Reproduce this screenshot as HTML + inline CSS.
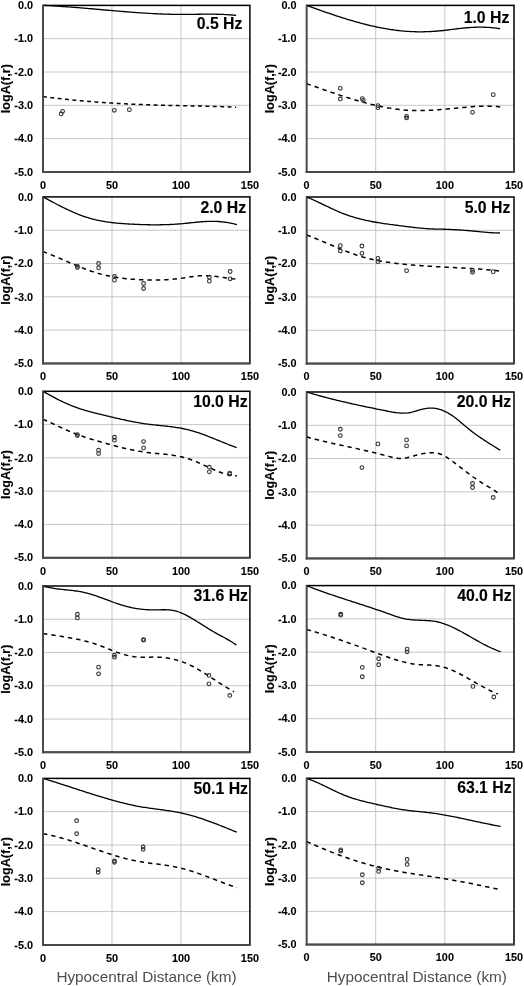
<!DOCTYPE html>
<html><head><meta charset="utf-8"><style>
html,body{margin:0;padding:0;background:#fff;}
svg{display:block;filter:grayscale(1);}
text{font-family:"Liberation Sans",sans-serif;}
.gr{stroke:#c6c6c6;stroke-width:1;}
.bd{fill:none;stroke:#000;stroke-width:1.5;}
.ax{stroke:#4a4a4a;stroke-width:2;}
.sl{fill:none;stroke:#000;stroke-width:1.3;}
.ds{fill:none;stroke:#000;stroke-width:1.5;}
.ci{fill:none;stroke:#333;stroke-width:1.1;}
.tl{font-size:11.4px;font-weight:bold;fill:#000;stroke:#000;stroke-width:0.1px;}
.yt{font-size:12.6px;font-weight:bold;fill:#000;stroke:#000;stroke-width:0.1px;}
.fl{font-size:15.8px;font-weight:bold;fill:#000;stroke:#000;stroke-width:0.15px;}
.xt{font-size:15.3px;fill:#4d4d4d;}
</style></head><body>
<svg width="524" height="986" viewBox="0 0 524 986">
<line x1="111.97" y1="5.4" x2="111.97" y2="171.9" class="gr"/>
<line x1="180.93" y1="5.4" x2="180.93" y2="171.9" class="gr"/>
<line x1="43" y1="38.7" x2="249.9" y2="38.7" class="gr"/>
<line x1="43" y1="72" x2="249.9" y2="72" class="gr"/>
<line x1="43" y1="105.3" x2="249.9" y2="105.3" class="gr"/>
<line x1="43" y1="138.6" x2="249.9" y2="138.6" class="gr"/>
<rect x="43" y="5.4" width="206.9" height="166.5" class="bd"/>
<path d="M43,5.4 L44.38,5.46 L45.76,5.52 L47.14,5.58 L48.52,5.65 L49.9,5.72 L51.28,5.8 L52.66,5.87 L54.03,5.95 L55.41,6.03 L56.79,6.12 L58.17,6.2 L59.55,6.29 L60.93,6.38 L62.31,6.48 L63.69,6.57 L65.07,6.67 L66.45,6.77 L67.83,6.87 L69.21,6.97 L70.59,7.07 L71.97,7.18 L73.35,7.28 L74.72,7.39 L76.1,7.5 L77.48,7.61 L78.86,7.72 L80.24,7.83 L81.62,7.95 L83,8.06 L84.38,8.18 L85.76,8.3 L87.14,8.41 L88.52,8.53 L89.9,8.65 L91.28,8.77 L92.66,8.89 L94.04,9.01 L95.41,9.13 L96.79,9.25 L98.17,9.38 L99.55,9.5 L100.93,9.62 L102.31,9.74 L103.69,9.86 L105.07,9.98 L106.45,10.11 L107.83,10.23 L109.21,10.35 L110.59,10.47 L111.97,10.59 L113.35,10.71 L114.73,10.83 L116.1,10.94 L117.48,11.06 L118.86,11.18 L120.24,11.29 L121.62,11.41 L123,11.52 L124.38,11.63 L125.76,11.75 L127.14,11.86 L128.52,11.96 L129.9,12.07 L131.28,12.18 L132.66,12.28 L134.04,12.38 L135.42,12.49 L136.79,12.58 L138.17,12.68 L139.55,12.78 L140.93,12.87 L142.31,12.96 L143.69,13.05 L145.07,13.14 L146.45,13.22 L147.83,13.31 L149.21,13.39 L150.59,13.47 L151.97,13.54 L153.35,13.61 L154.73,13.68 L156.11,13.75 L157.48,13.82 L158.86,13.88 L160.24,13.94 L161.62,13.99 L163,14.04 L164.38,14.09 L165.76,14.14 L167.14,14.18 L168.52,14.22 L169.9,14.26 L171.28,14.29 L172.66,14.32 L174.04,14.34 L175.42,14.36 L176.8,14.38 L178.17,14.4 L179.55,14.41 L180.93,14.41 L182.31,14.41 L183.69,14.41 L185.07,14.41 L186.45,14.4 L187.83,14.39 L189.21,14.37 L190.59,14.36 L191.97,14.34 L193.35,14.33 L194.73,14.31 L196.11,14.29 L197.49,14.27 L198.86,14.26 L200.24,14.24 L201.62,14.22 L203,14.21 L204.38,14.2 L205.76,14.19 L207.14,14.18 L208.52,14.18 L209.9,14.18 L211.28,14.18 L212.66,14.19 L214.04,14.21 L215.42,14.22 L216.8,14.25 L218.18,14.28 L219.55,14.31 L220.93,14.36 L222.31,14.41 L223.69,14.46 L225.07,14.53 L226.45,14.6 L227.83,14.68 L229.21,14.77 L230.59,14.87 L231.97,14.98 L233.35,15.1 L234.73,15.23 L236.11,15.37" class="sl"/>
<path d="M43,96.64 L44.38,96.82 L45.76,96.99 L47.14,97.16 L48.52,97.33 L49.9,97.5 L51.28,97.67 L52.66,97.83 L54.03,97.99 L55.41,98.15 L56.79,98.31 L58.17,98.46 L59.55,98.62 L60.93,98.77 L62.31,98.92 L63.69,99.06 L65.07,99.21 L66.45,99.35 L67.83,99.49 L69.21,99.63 L70.59,99.77 L71.97,99.91 L73.35,100.04 L74.72,100.17 L76.1,100.3 L77.48,100.43 L78.86,100.56 L80.24,100.68 L81.62,100.81 L83,100.93 L84.38,101.05 L85.76,101.17 L87.14,101.28 L88.52,101.4 L89.9,101.51 L91.28,101.62 L92.66,101.73 L94.04,101.83 L95.41,101.94 L96.79,102.04 L98.17,102.15 L99.55,102.25 L100.93,102.35 L102.31,102.44 L103.69,102.54 L105.07,102.63 L106.45,102.73 L107.83,102.82 L109.21,102.91 L110.59,102.99 L111.97,103.08 L113.35,103.16 L114.73,103.25 L116.1,103.33 L117.48,103.41 L118.86,103.49 L120.24,103.56 L121.62,103.64 L123,103.71 L124.38,103.79 L125.76,103.86 L127.14,103.93 L128.52,104 L129.9,104.06 L131.28,104.13 L132.66,104.19 L134.04,104.26 L135.42,104.32 L136.79,104.38 L138.17,104.44 L139.55,104.49 L140.93,104.55 L142.31,104.6 L143.69,104.66 L145.07,104.71 L146.45,104.76 L147.83,104.81 L149.21,104.86 L150.59,104.91 L151.97,104.95 L153.35,105 L154.73,105.04 L156.11,105.08 L157.48,105.13 L158.86,105.17 L160.24,105.2 L161.62,105.24 L163,105.28 L164.38,105.31 L165.76,105.35 L167.14,105.38 L168.52,105.41 L169.9,105.45 L171.28,105.48 L172.66,105.51 L174.04,105.54 L175.42,105.56 L176.8,105.59 L178.17,105.62 L179.55,105.65 L180.93,105.67 L182.31,105.7 L183.69,105.73 L185.07,105.75 L186.45,105.78 L187.83,105.8 L189.21,105.83 L190.59,105.86 L191.97,105.88 L193.35,105.91 L194.73,105.93 L196.11,105.96 L197.49,105.99 L198.86,106.02 L200.24,106.05 L201.62,106.08 L203,106.11 L204.38,106.14 L205.76,106.17 L207.14,106.2 L208.52,106.24 L209.9,106.27 L211.28,106.31 L212.66,106.35 L214.04,106.39 L215.42,106.43 L216.8,106.47 L218.18,106.51 L219.55,106.56 L220.93,106.61 L222.31,106.66 L223.69,106.71 L225.07,106.76 L226.45,106.81 L227.83,106.87 L229.21,106.93 L230.59,106.99 L231.97,107.05 L233.35,107.12 L234.73,107.19 L236.11,107.26" class="ds" stroke-dasharray="3.9,3.5"/>
<circle cx="61.21" cy="113.96" r="1.85" class="ci"/>
<circle cx="62.59" cy="111.29" r="1.85" class="ci"/>
<circle cx="114.31" cy="110.29" r="1.85" class="ci"/>
<circle cx="129.35" cy="109.63" r="1.85" class="ci"/>
<line x1="43" y1="4.9" x2="43" y2="172.9" class="ax" style="stroke-width:2"/>
<line x1="42" y1="171.9" x2="250.4" y2="171.9" class="ax"/>
<text transform="translate(33,9.1) scale(0.95,1)" class="tl" text-anchor="end">0.0</text>
<text transform="translate(33,42.4) scale(0.95,1)" class="tl" text-anchor="end">-1.0</text>
<text transform="translate(33,75.7) scale(0.95,1)" class="tl" text-anchor="end">-2.0</text>
<text transform="translate(33,109) scale(0.95,1)" class="tl" text-anchor="end">-3.0</text>
<text transform="translate(33,142.3) scale(0.95,1)" class="tl" text-anchor="end">-4.0</text>
<text transform="translate(33,175.6) scale(0.95,1)" class="tl" text-anchor="end">-5.0</text>
<text transform="translate(43,188.7) scale(0.95,1)" class="tl" text-anchor="middle">0</text>
<text transform="translate(111.97,188.7) scale(0.95,1)" class="tl" text-anchor="middle">50</text>
<text transform="translate(180.93,188.7) scale(0.95,1)" class="tl" text-anchor="middle">100</text>
<text transform="translate(249.9,188.7) scale(0.95,1)" class="tl" text-anchor="middle">150</text>
<text transform="translate(10,88.65) rotate(-90)" class="yt" text-anchor="middle">logA(f,r)</text>
<text x="242.4" y="29.1" class="fl" text-anchor="end">0.5 Hz</text>
<line x1="375.73" y1="5.4" x2="375.73" y2="171.9" class="gr"/>
<line x1="444.87" y1="5.4" x2="444.87" y2="171.9" class="gr"/>
<line x1="306.6" y1="38.7" x2="514" y2="38.7" class="gr"/>
<line x1="306.6" y1="72" x2="514" y2="72" class="gr"/>
<line x1="306.6" y1="105.3" x2="514" y2="105.3" class="gr"/>
<line x1="306.6" y1="138.6" x2="514" y2="138.6" class="gr"/>
<rect x="306.6" y="5.4" width="207.4" height="166.5" class="bd"/>
<path d="M306.6,5.39 L307.98,5.89 L309.37,6.39 L310.75,6.89 L312.13,7.39 L313.51,7.89 L314.9,8.39 L316.28,8.88 L317.66,9.37 L319.04,9.87 L320.43,10.35 L321.81,10.84 L323.19,11.33 L324.57,11.81 L325.96,12.29 L327.34,12.77 L328.72,13.24 L330.11,13.71 L331.49,14.18 L332.87,14.64 L334.25,15.1 L335.64,15.56 L337.02,16.02 L338.4,16.47 L339.78,16.92 L341.17,17.36 L342.55,17.8 L343.93,18.23 L345.31,18.66 L346.7,19.09 L348.08,19.51 L349.46,19.92 L350.85,20.34 L352.23,20.74 L353.61,21.14 L354.99,21.54 L356.38,21.93 L357.76,22.32 L359.14,22.69 L360.52,23.07 L361.91,23.44 L363.29,23.8 L364.67,24.15 L366.05,24.5 L367.44,24.84 L368.82,25.18 L370.2,25.51 L371.59,25.83 L372.97,26.15 L374.35,26.46 L375.73,26.76 L377.12,27.05 L378.5,27.34 L379.88,27.61 L381.26,27.89 L382.65,28.15 L384.03,28.4 L385.41,28.65 L386.79,28.89 L388.18,29.12 L389.56,29.34 L390.94,29.55 L392.33,29.76 L393.71,29.95 L395.09,30.14 L396.47,30.31 L397.86,30.48 L399.24,30.64 L400.62,30.79 L402,30.93 L403.39,31.06 L404.77,31.17 L406.15,31.28 L407.53,31.38 L408.92,31.47 L410.3,31.55 L411.68,31.61 L413.07,31.67 L414.45,31.72 L415.83,31.75 L417.21,31.78 L418.6,31.79 L419.98,31.8 L421.36,31.79 L422.74,31.78 L424.13,31.76 L425.51,31.72 L426.89,31.68 L428.27,31.63 L429.66,31.57 L431.04,31.5 L432.42,31.42 L433.81,31.33 L435.19,31.24 L436.57,31.13 L437.95,31.02 L439.34,30.9 L440.72,30.77 L442.1,30.63 L443.48,30.48 L444.87,30.33 L446.25,30.17 L447.63,30 L449.01,29.83 L450.4,29.65 L451.78,29.47 L453.16,29.29 L454.55,29.12 L455.93,28.94 L457.31,28.77 L458.69,28.6 L460.08,28.44 L461.46,28.28 L462.84,28.14 L464.22,28 L465.61,27.87 L466.99,27.75 L468.37,27.64 L469.75,27.54 L471.14,27.46 L472.52,27.38 L473.9,27.31 L475.29,27.26 L476.67,27.21 L478.05,27.18 L479.43,27.17 L480.82,27.16 L482.2,27.17 L483.58,27.19 L484.96,27.23 L486.35,27.29 L487.73,27.35 L489.11,27.44 L490.49,27.54 L491.88,27.65 L493.26,27.79 L494.64,27.94 L496.03,28.11 L497.41,28.29 L498.79,28.5 L500.17,28.72" class="sl"/>
<path d="M306.6,83.66 L307.98,84.14 L309.37,84.63 L310.75,85.11 L312.13,85.6 L313.51,86.09 L314.9,86.57 L316.28,87.06 L317.66,87.54 L319.04,88.03 L320.43,88.51 L321.81,89 L323.19,89.48 L324.57,89.96 L325.96,90.44 L327.34,90.92 L328.72,91.4 L330.11,91.88 L331.49,92.35 L332.87,92.82 L334.25,93.29 L335.64,93.75 L337.02,94.22 L338.4,94.68 L339.78,95.14 L341.17,95.59 L342.55,96.04 L343.93,96.49 L345.31,96.93 L346.7,97.37 L348.08,97.81 L349.46,98.24 L350.85,98.67 L352.23,99.09 L353.61,99.51 L354.99,99.92 L356.38,100.33 L357.76,100.73 L359.14,101.13 L360.52,101.52 L361.91,101.9 L363.29,102.28 L364.67,102.65 L366.05,103.02 L367.44,103.38 L368.82,103.73 L370.2,104.08 L371.59,104.42 L372.97,104.75 L374.35,105.08 L375.73,105.4 L377.12,105.71 L378.5,106.01 L379.88,106.3 L381.26,106.59 L382.65,106.87 L384.03,107.13 L385.41,107.39 L386.79,107.65 L388.18,107.89 L389.56,108.12 L390.94,108.34 L392.33,108.56 L393.71,108.76 L395.09,108.96 L396.47,109.14 L397.86,109.31 L399.24,109.48 L400.62,109.63 L402,109.77 L403.39,109.9 L404.77,110.02 L406.15,110.13 L407.53,110.23 L408.92,110.31 L410.3,110.39 L411.68,110.45 L413.07,110.5 L414.45,110.53 L415.83,110.56 L417.21,110.58 L418.6,110.59 L419.98,110.58 L421.36,110.57 L422.74,110.55 L424.13,110.52 L425.51,110.48 L426.89,110.43 L428.27,110.38 L429.66,110.31 L431.04,110.24 L432.42,110.17 L433.81,110.08 L435.19,110 L436.57,109.9 L437.95,109.8 L439.34,109.7 L440.72,109.59 L442.1,109.48 L443.48,109.36 L444.87,109.24 L446.25,109.11 L447.63,108.99 L449.01,108.86 L450.4,108.73 L451.78,108.6 L453.16,108.46 L454.55,108.33 L455.93,108.19 L457.31,108.05 L458.69,107.92 L460.08,107.78 L461.46,107.65 L462.84,107.51 L464.22,107.38 L465.61,107.25 L466.99,107.13 L468.37,107.01 L469.75,106.89 L471.14,106.78 L472.52,106.67 L473.9,106.58 L475.29,106.49 L476.67,106.4 L478.05,106.33 L479.43,106.27 L480.82,106.21 L482.2,106.17 L483.58,106.14 L484.96,106.12 L486.35,106.12 L487.73,106.12 L489.11,106.15 L490.49,106.18 L491.88,106.24 L493.26,106.31 L494.64,106.39 L496.03,106.5 L497.41,106.62 L498.79,106.76 L500.17,106.92" class="ds" stroke-dasharray="4.4,4"/>
<circle cx="340.34" cy="88.32" r="1.85" class="ci"/>
<circle cx="340.34" cy="98.97" r="1.85" class="ci"/>
<circle cx="362.32" cy="98.64" r="1.85" class="ci"/>
<circle cx="363.29" cy="100.31" r="1.85" class="ci"/>
<circle cx="377.95" cy="105.63" r="1.85" class="ci"/>
<circle cx="377.95" cy="107.63" r="1.85" class="ci"/>
<circle cx="406.57" cy="116.29" r="1.85" class="ci"/>
<circle cx="406.57" cy="117.95" r="1.85" class="ci"/>
<circle cx="472.52" cy="112.29" r="1.85" class="ci"/>
<circle cx="493.26" cy="94.64" r="1.85" class="ci"/>
<line x1="306.6" y1="4.9" x2="306.6" y2="172.9" class="ax" style="stroke-width:1.5"/>
<line x1="305.6" y1="171.9" x2="514.5" y2="171.9" class="ax"/>
<text transform="translate(296.6,9.1) scale(0.95,1)" class="tl" text-anchor="end">0.0</text>
<text transform="translate(296.6,42.4) scale(0.95,1)" class="tl" text-anchor="end">-1.0</text>
<text transform="translate(296.6,75.7) scale(0.95,1)" class="tl" text-anchor="end">-2.0</text>
<text transform="translate(296.6,109) scale(0.95,1)" class="tl" text-anchor="end">-3.0</text>
<text transform="translate(296.6,142.3) scale(0.95,1)" class="tl" text-anchor="end">-4.0</text>
<text transform="translate(296.6,175.6) scale(0.95,1)" class="tl" text-anchor="end">-5.0</text>
<text transform="translate(306.6,188.7) scale(0.95,1)" class="tl" text-anchor="middle">0</text>
<text transform="translate(375.73,188.7) scale(0.95,1)" class="tl" text-anchor="middle">50</text>
<text transform="translate(444.87,188.7) scale(0.95,1)" class="tl" text-anchor="middle">100</text>
<text transform="translate(514,188.7) scale(0.95,1)" class="tl" text-anchor="middle">150</text>
<text transform="translate(273.6,88.65) rotate(-90)" class="yt" text-anchor="middle">logA(f,r)</text>
<text x="509.3" y="22.5" class="fl" text-anchor="end">1.0 Hz</text>
<line x1="111.97" y1="196.9" x2="111.97" y2="363.4" class="gr"/>
<line x1="180.93" y1="196.9" x2="180.93" y2="363.4" class="gr"/>
<line x1="43" y1="230.2" x2="249.9" y2="230.2" class="gr"/>
<line x1="43" y1="263.5" x2="249.9" y2="263.5" class="gr"/>
<line x1="43" y1="296.8" x2="249.9" y2="296.8" class="gr"/>
<line x1="43" y1="330.1" x2="249.9" y2="330.1" class="gr"/>
<rect x="43" y="196.9" width="206.9" height="166.5" class="bd"/>
<path d="M43,196.9 L44.38,197.64 L45.76,198.38 L47.14,199.12 L48.52,199.86 L49.9,200.6 L51.28,201.34 L52.66,202.07 L54.03,202.8 L55.41,203.52 L56.79,204.24 L58.17,204.96 L59.55,205.66 L60.93,206.36 L62.31,207.06 L63.69,207.74 L65.07,208.42 L66.45,209.08 L67.83,209.74 L69.21,210.38 L70.59,211.01 L71.97,211.63 L73.35,212.24 L74.72,212.83 L76.1,213.41 L77.48,213.98 L78.86,214.52 L80.24,215.06 L81.62,215.57 L83,216.07 L84.38,216.55 L85.76,217.01 L87.14,217.45 L88.52,217.87 L89.9,218.27 L91.28,218.66 L92.66,219.02 L94.04,219.37 L95.41,219.71 L96.79,220.02 L98.17,220.32 L99.55,220.61 L100.93,220.88 L102.31,221.14 L103.69,221.38 L105.07,221.61 L106.45,221.83 L107.83,222.03 L109.21,222.23 L110.59,222.41 L111.97,222.58 L113.35,222.74 L114.73,222.89 L116.1,223.04 L117.48,223.17 L118.86,223.29 L120.24,223.41 L121.62,223.52 L123,223.62 L124.38,223.72 L125.76,223.81 L127.14,223.9 L128.52,223.98 L129.9,224.06 L131.28,224.13 L132.66,224.2 L134.04,224.27 L135.42,224.33 L136.79,224.39 L138.17,224.45 L139.55,224.5 L140.93,224.55 L142.31,224.59 L143.69,224.63 L145.07,224.67 L146.45,224.7 L147.83,224.73 L149.21,224.76 L150.59,224.78 L151.97,224.79 L153.35,224.8 L154.73,224.81 L156.11,224.81 L157.48,224.8 L158.86,224.79 L160.24,224.77 L161.62,224.75 L163,224.72 L164.38,224.69 L165.76,224.65 L167.14,224.6 L168.52,224.55 L169.9,224.49 L171.28,224.43 L172.66,224.36 L174.04,224.28 L175.42,224.19 L176.8,224.1 L178.17,224 L179.55,223.9 L180.93,223.78 L182.31,223.66 L183.69,223.53 L185.07,223.4 L186.45,223.26 L187.83,223.12 L189.21,222.98 L190.59,222.83 L191.97,222.68 L193.35,222.54 L194.73,222.4 L196.11,222.26 L197.49,222.13 L198.86,222 L200.24,221.88 L201.62,221.77 L203,221.67 L204.38,221.57 L205.76,221.49 L207.14,221.43 L208.52,221.38 L209.9,221.34 L211.28,221.32 L212.66,221.32 L214.04,221.34 L215.42,221.37 L216.8,221.43 L218.18,221.51 L219.55,221.62 L220.93,221.74 L222.31,221.89 L223.69,222.05 L225.07,222.24 L226.45,222.44 L227.83,222.66 L229.21,222.9 L230.59,223.16 L231.97,223.44 L233.35,223.73 L234.73,224.04 L236.11,224.36 L236.93,224.56" class="sl"/>
<path d="M43,251.51 L44.38,252.04 L45.76,252.58 L47.14,253.12 L48.52,253.68 L49.9,254.24 L51.28,254.81 L52.66,255.38 L54.03,255.96 L55.41,256.54 L56.79,257.13 L58.17,257.72 L59.55,258.31 L60.93,258.9 L62.31,259.5 L63.69,260.09 L65.07,260.69 L66.45,261.28 L67.83,261.88 L69.21,262.47 L70.59,263.06 L71.97,263.65 L73.35,264.23 L74.72,264.81 L76.1,265.38 L77.48,265.95 L78.86,266.51 L80.24,267.07 L81.62,267.62 L83,268.16 L84.38,268.69 L85.76,269.21 L87.14,269.72 L88.52,270.22 L89.9,270.71 L91.28,271.19 L92.66,271.65 L94.04,272.1 L95.41,272.54 L96.79,272.97 L98.17,273.38 L99.55,273.77 L100.93,274.15 L102.31,274.51 L103.69,274.86 L105.07,275.19 L106.45,275.51 L107.83,275.81 L109.21,276.1 L110.59,276.38 L111.97,276.65 L113.35,276.9 L114.73,277.14 L116.1,277.36 L117.48,277.58 L118.86,277.78 L120.24,277.98 L121.62,278.16 L123,278.33 L124.38,278.49 L125.76,278.64 L127.14,278.78 L128.52,278.92 L129.9,279.04 L131.28,279.16 L132.66,279.26 L134.04,279.36 L135.42,279.45 L136.79,279.54 L138.17,279.61 L139.55,279.68 L140.93,279.75 L142.31,279.8 L143.69,279.85 L145.07,279.9 L146.45,279.94 L147.83,279.97 L149.21,280 L150.59,280.02 L151.97,280.03 L153.35,280.04 L154.73,280.03 L156.11,280.02 L157.48,280.01 L158.86,279.98 L160.24,279.95 L161.62,279.91 L163,279.85 L164.38,279.8 L165.76,279.73 L167.14,279.65 L168.52,279.56 L169.9,279.46 L171.28,279.36 L172.66,279.24 L174.04,279.12 L175.42,278.98 L176.8,278.83 L178.17,278.67 L179.55,278.5 L180.93,278.32 L182.31,278.13 L183.69,277.93 L185.07,277.72 L186.45,277.5 L187.83,277.29 L189.21,277.07 L190.59,276.86 L191.97,276.66 L193.35,276.47 L194.73,276.28 L196.11,276.12 L197.49,275.97 L198.86,275.85 L200.24,275.75 L201.62,275.68 L203,275.63 L204.38,275.62 L205.76,275.64 L207.14,275.68 L208.52,275.74 L209.9,275.83 L211.28,275.94 L212.66,276.07 L214.04,276.21 L215.42,276.37 L216.8,276.54 L218.18,276.73 L219.55,276.92 L220.93,277.11 L222.31,277.32 L223.69,277.52 L225.07,277.73 L226.45,277.93 L227.83,278.13 L229.21,278.33 L230.59,278.52 L231.97,278.7 L233.35,278.87 L234.73,279.02 L236.11,279.16" class="ds" stroke-dasharray="4.4,4"/>
<circle cx="77.35" cy="266.16" r="1.85" class="ci"/>
<circle cx="77.35" cy="267.5" r="1.85" class="ci"/>
<circle cx="98.59" cy="263.5" r="1.85" class="ci"/>
<circle cx="98.59" cy="267.83" r="1.85" class="ci"/>
<circle cx="114.45" cy="276.49" r="1.85" class="ci"/>
<circle cx="114.45" cy="280.15" r="1.85" class="ci"/>
<circle cx="143.55" cy="283.48" r="1.85" class="ci"/>
<circle cx="143.55" cy="288.48" r="1.85" class="ci"/>
<circle cx="209.35" cy="277.15" r="1.85" class="ci"/>
<circle cx="209.35" cy="281.15" r="1.85" class="ci"/>
<circle cx="230.18" cy="271.49" r="1.85" class="ci"/>
<circle cx="230.18" cy="278.82" r="1.85" class="ci"/>
<line x1="43" y1="196.4" x2="43" y2="364.4" class="ax" style="stroke-width:2"/>
<line x1="42" y1="363.4" x2="250.4" y2="363.4" class="ax"/>
<text transform="translate(33,200.6) scale(0.95,1)" class="tl" text-anchor="end">0.0</text>
<text transform="translate(33,233.9) scale(0.95,1)" class="tl" text-anchor="end">-1.0</text>
<text transform="translate(33,267.2) scale(0.95,1)" class="tl" text-anchor="end">-2.0</text>
<text transform="translate(33,300.5) scale(0.95,1)" class="tl" text-anchor="end">-3.0</text>
<text transform="translate(33,333.8) scale(0.95,1)" class="tl" text-anchor="end">-4.0</text>
<text transform="translate(33,367.1) scale(0.95,1)" class="tl" text-anchor="end">-5.0</text>
<text transform="translate(43,380.2) scale(0.95,1)" class="tl" text-anchor="middle">0</text>
<text transform="translate(111.97,380.2) scale(0.95,1)" class="tl" text-anchor="middle">50</text>
<text transform="translate(180.93,380.2) scale(0.95,1)" class="tl" text-anchor="middle">100</text>
<text transform="translate(249.9,380.2) scale(0.95,1)" class="tl" text-anchor="middle">150</text>
<text transform="translate(10,280.15) rotate(-90)" class="yt" text-anchor="middle">logA(f,r)</text>
<text x="246.1" y="213.1" class="fl" text-anchor="end">2.0 Hz</text>
<line x1="375.73" y1="197" x2="375.73" y2="363.6" class="gr"/>
<line x1="444.87" y1="197" x2="444.87" y2="363.6" class="gr"/>
<line x1="306.6" y1="230.32" x2="514" y2="230.32" class="gr"/>
<line x1="306.6" y1="263.64" x2="514" y2="263.64" class="gr"/>
<line x1="306.6" y1="296.96" x2="514" y2="296.96" class="gr"/>
<line x1="306.6" y1="330.28" x2="514" y2="330.28" class="gr"/>
<rect x="306.6" y="197" width="207.4" height="166.6" class="bd"/>
<path d="M306.6,197 L307.98,197.57 L309.37,198.15 L310.75,198.75 L312.13,199.36 L313.51,199.98 L314.9,200.62 L316.28,201.26 L317.66,201.9 L319.04,202.56 L320.43,203.21 L321.81,203.88 L323.19,204.54 L324.57,205.2 L325.96,205.87 L327.34,206.53 L328.72,207.19 L330.11,207.84 L331.49,208.49 L332.87,209.13 L334.25,209.76 L335.64,210.38 L337.02,210.99 L338.4,211.59 L339.78,212.17 L341.17,212.74 L342.55,213.29 L343.93,213.83 L345.31,214.35 L346.7,214.85 L348.08,215.33 L349.46,215.8 L350.85,216.26 L352.23,216.7 L353.61,217.12 L354.99,217.53 L356.38,217.93 L357.76,218.31 L359.14,218.68 L360.52,219.04 L361.91,219.38 L363.29,219.72 L364.67,220.04 L366.05,220.35 L367.44,220.65 L368.82,220.94 L370.2,221.22 L371.59,221.49 L372.97,221.76 L374.35,222.01 L375.73,222.26 L377.12,222.49 L378.5,222.73 L379.88,222.95 L381.26,223.17 L382.65,223.38 L384.03,223.59 L385.41,223.79 L386.79,223.98 L388.18,224.17 L389.56,224.36 L390.94,224.55 L392.33,224.73 L393.71,224.91 L395.09,225.09 L396.47,225.26 L397.86,225.44 L399.24,225.61 L400.62,225.78 L402,225.96 L403.39,226.13 L404.77,226.31 L406.15,226.48 L407.53,226.66 L408.92,226.83 L410.3,227 L411.68,227.17 L413.07,227.34 L414.45,227.5 L415.83,227.65 L417.21,227.81 L418.6,227.95 L419.98,228.09 L421.36,228.22 L422.74,228.34 L424.13,228.46 L425.51,228.56 L426.89,228.66 L428.27,228.74 L429.66,228.82 L431.04,228.89 L432.42,228.94 L433.81,228.99 L435.19,229.03 L436.57,229.07 L437.95,229.11 L439.34,229.14 L440.72,229.17 L442.1,229.2 L443.48,229.23 L444.87,229.27 L446.25,229.31 L447.63,229.36 L449.01,229.41 L450.4,229.47 L451.78,229.53 L453.16,229.59 L454.55,229.66 L455.93,229.74 L457.31,229.82 L458.69,229.9 L460.08,229.99 L461.46,230.08 L462.84,230.18 L464.22,230.28 L465.61,230.39 L466.99,230.5 L468.37,230.62 L469.75,230.74 L471.14,230.86 L472.52,230.99 L473.9,231.13 L475.29,231.26 L476.67,231.4 L478.05,231.54 L479.43,231.68 L480.82,231.82 L482.2,231.96 L483.58,232.09 L484.96,232.22 L486.35,232.34 L487.73,232.45 L489.11,232.56 L490.49,232.66 L491.88,232.75 L493.26,232.82 L494.64,232.89 L496.03,232.94 L497.41,232.97 L498.79,232.99 L499.9,233" class="sl"/>
<path d="M306.6,234.98 L307.98,235.5 L309.37,236.02 L310.75,236.56 L312.13,237.1 L313.51,237.66 L314.9,238.21 L316.28,238.78 L317.66,239.35 L319.04,239.92 L320.43,240.5 L321.81,241.08 L323.19,241.66 L324.57,242.25 L325.96,242.84 L327.34,243.43 L328.72,244.02 L330.11,244.61 L331.49,245.2 L332.87,245.78 L334.25,246.37 L335.64,246.95 L337.02,247.53 L338.4,248.11 L339.78,248.68 L341.17,249.25 L342.55,249.81 L343.93,250.37 L345.31,250.91 L346.7,251.46 L348.08,251.99 L349.46,252.51 L350.85,253.03 L352.23,253.53 L353.61,254.03 L354.99,254.51 L356.38,254.98 L357.76,255.44 L359.14,255.88 L360.52,256.32 L361.91,256.73 L363.29,257.14 L364.67,257.53 L366.05,257.9 L367.44,258.26 L368.82,258.61 L370.2,258.95 L371.59,259.27 L372.97,259.58 L374.35,259.88 L375.73,260.17 L377.12,260.44 L378.5,260.71 L379.88,260.97 L381.26,261.21 L382.65,261.45 L384.03,261.68 L385.41,261.9 L386.79,262.11 L388.18,262.32 L389.56,262.52 L390.94,262.71 L392.33,262.89 L393.71,263.07 L395.09,263.24 L396.47,263.41 L397.86,263.57 L399.24,263.73 L400.62,263.88 L402,264.03 L403.39,264.18 L404.77,264.32 L406.15,264.45 L407.53,264.58 L408.92,264.71 L410.3,264.83 L411.68,264.95 L413.07,265.07 L414.45,265.18 L415.83,265.29 L417.21,265.4 L418.6,265.51 L419.98,265.61 L421.36,265.7 L422.74,265.8 L424.13,265.89 L425.51,265.98 L426.89,266.07 L428.27,266.16 L429.66,266.24 L431.04,266.33 L432.42,266.41 L433.81,266.49 L435.19,266.57 L436.57,266.64 L437.95,266.72 L439.34,266.79 L440.72,266.87 L442.1,266.94 L443.48,267.01 L444.87,267.09 L446.25,267.16 L447.63,267.23 L449.01,267.3 L450.4,267.37 L451.78,267.44 L453.16,267.51 L454.55,267.59 L455.93,267.66 L457.31,267.73 L458.69,267.8 L460.08,267.88 L461.46,267.96 L462.84,268.03 L464.22,268.11 L465.61,268.19 L466.99,268.27 L468.37,268.36 L469.75,268.44 L471.14,268.53 L472.52,268.62 L473.9,268.71 L475.29,268.8 L476.67,268.9 L478.05,269 L479.43,269.1 L480.82,269.2 L482.2,269.31 L483.58,269.42 L484.96,269.53 L486.35,269.65 L487.73,269.77 L489.11,269.89 L490.49,270.02 L491.88,270.15 L493.26,270.29 L494.64,270.43 L496.03,270.57 L497.41,270.72 L498.79,270.88 L499.9,271" class="ds" stroke-dasharray="4.4,4"/>
<circle cx="340.34" cy="245.65" r="1.85" class="ci"/>
<circle cx="340.34" cy="250.98" r="1.85" class="ci"/>
<circle cx="361.91" cy="245.98" r="1.85" class="ci"/>
<circle cx="361.91" cy="253.31" r="1.85" class="ci"/>
<circle cx="377.95" cy="258.31" r="1.85" class="ci"/>
<circle cx="377.95" cy="261.64" r="1.85" class="ci"/>
<circle cx="406.57" cy="270.64" r="1.85" class="ci"/>
<circle cx="472.52" cy="270.3" r="1.85" class="ci"/>
<circle cx="472.52" cy="272.3" r="1.85" class="ci"/>
<circle cx="493.26" cy="271.64" r="1.85" class="ci"/>
<line x1="306.6" y1="196.5" x2="306.6" y2="364.6" class="ax" style="stroke-width:1.5"/>
<line x1="305.6" y1="363.6" x2="514.5" y2="363.6" class="ax"/>
<text transform="translate(296.6,200.7) scale(0.95,1)" class="tl" text-anchor="end">0.0</text>
<text transform="translate(296.6,234.02) scale(0.95,1)" class="tl" text-anchor="end">-1.0</text>
<text transform="translate(296.6,267.34) scale(0.95,1)" class="tl" text-anchor="end">-2.0</text>
<text transform="translate(296.6,300.66) scale(0.95,1)" class="tl" text-anchor="end">-3.0</text>
<text transform="translate(296.6,333.98) scale(0.95,1)" class="tl" text-anchor="end">-4.0</text>
<text transform="translate(296.6,367.3) scale(0.95,1)" class="tl" text-anchor="end">-5.0</text>
<text transform="translate(306.6,380.4) scale(0.95,1)" class="tl" text-anchor="middle">0</text>
<text transform="translate(375.73,380.4) scale(0.95,1)" class="tl" text-anchor="middle">50</text>
<text transform="translate(444.87,380.4) scale(0.95,1)" class="tl" text-anchor="middle">100</text>
<text transform="translate(514,380.4) scale(0.95,1)" class="tl" text-anchor="middle">150</text>
<text transform="translate(273.6,280.3) rotate(-90)" class="yt" text-anchor="middle">logA(f,r)</text>
<text x="510.3" y="213.2" class="fl" text-anchor="end">5.0 Hz</text>
<line x1="111.97" y1="391.3" x2="111.97" y2="557.7" class="gr"/>
<line x1="180.93" y1="391.3" x2="180.93" y2="557.7" class="gr"/>
<line x1="43" y1="424.58" x2="249.9" y2="424.58" class="gr"/>
<line x1="43" y1="457.86" x2="249.9" y2="457.86" class="gr"/>
<line x1="43" y1="491.14" x2="249.9" y2="491.14" class="gr"/>
<line x1="43" y1="524.42" x2="249.9" y2="524.42" class="gr"/>
<rect x="43" y="391.3" width="206.9" height="166.4" class="bd"/>
<path d="M43,391.3 L44.38,392.09 L45.76,392.88 L47.14,393.65 L48.52,394.42 L49.9,395.19 L51.28,395.94 L52.66,396.68 L54.03,397.42 L55.41,398.14 L56.79,398.85 L58.17,399.55 L59.55,400.24 L60.93,400.92 L62.31,401.58 L63.69,402.23 L65.07,402.87 L66.45,403.49 L67.83,404.1 L69.21,404.7 L70.59,405.27 L71.97,405.84 L73.35,406.38 L74.72,406.91 L76.1,407.43 L77.48,407.92 L78.86,408.4 L80.24,408.86 L81.62,409.31 L83,409.74 L84.38,410.15 L85.76,410.56 L87.14,410.95 L88.52,411.33 L89.9,411.7 L91.28,412.07 L92.66,412.42 L94.04,412.78 L95.41,413.12 L96.79,413.46 L98.17,413.8 L99.55,414.13 L100.93,414.47 L102.31,414.8 L103.69,415.14 L105.07,415.47 L106.45,415.8 L107.83,416.14 L109.21,416.47 L110.59,416.8 L111.97,417.13 L113.35,417.45 L114.73,417.78 L116.1,418.1 L117.48,418.42 L118.86,418.73 L120.24,419.04 L121.62,419.35 L123,419.66 L124.38,419.96 L125.76,420.25 L127.14,420.55 L128.52,420.83 L129.9,421.11 L131.28,421.39 L132.66,421.66 L134.04,421.92 L135.42,422.18 L136.79,422.43 L138.17,422.67 L139.55,422.9 L140.93,423.13 L142.31,423.35 L143.69,423.56 L145.07,423.77 L146.45,423.96 L147.83,424.14 L149.21,424.32 L150.59,424.49 L151.97,424.65 L153.35,424.81 L154.73,424.96 L156.11,425.11 L157.48,425.25 L158.86,425.4 L160.24,425.54 L161.62,425.68 L163,425.82 L164.38,425.97 L165.76,426.12 L167.14,426.27 L168.52,426.43 L169.9,426.59 L171.28,426.76 L172.66,426.94 L174.04,427.13 L175.42,427.32 L176.8,427.53 L178.17,427.75 L179.55,427.98 L180.93,428.23 L182.31,428.49 L183.69,428.76 L185.07,429.05 L186.45,429.36 L187.83,429.69 L189.21,430.04 L190.59,430.4 L191.97,430.79 L193.35,431.19 L194.73,431.61 L196.11,432.05 L197.49,432.49 L198.86,432.96 L200.24,433.43 L201.62,433.92 L203,434.42 L204.38,434.93 L205.76,435.45 L207.14,435.97 L208.52,436.51 L209.9,437.05 L211.28,437.59 L212.66,438.15 L214.04,438.7 L215.42,439.26 L216.8,439.82 L218.18,440.38 L219.55,440.94 L220.93,441.5 L222.31,442.05 L223.69,442.61 L225.07,443.16 L226.45,443.71 L227.83,444.25 L229.21,444.78 L230.59,445.31 L231.97,445.83 L233.35,446.34 L234.73,446.84 L236.11,447.33 L236.66,447.52" class="sl"/>
<path d="M43,419.25 L44.38,419.85 L45.76,420.45 L47.14,421.07 L48.52,421.69 L49.9,422.33 L51.28,422.96 L52.66,423.6 L54.03,424.25 L55.41,424.9 L56.79,425.54 L58.17,426.19 L59.55,426.83 L60.93,427.48 L62.31,428.11 L63.69,428.74 L65.07,429.37 L66.45,429.98 L67.83,430.59 L69.21,431.19 L70.59,431.78 L71.97,432.36 L73.35,432.93 L74.72,433.48 L76.1,434.02 L77.48,434.55 L78.86,435.07 L80.24,435.56 L81.62,436.05 L83,436.52 L84.38,436.99 L85.76,437.44 L87.14,437.88 L88.52,438.32 L89.9,438.74 L91.28,439.16 L92.66,439.58 L94.04,439.99 L95.41,440.39 L96.79,440.79 L98.17,441.19 L99.55,441.59 L100.93,441.99 L102.31,442.39 L103.69,442.78 L105.07,443.17 L106.45,443.56 L107.83,443.95 L109.21,444.33 L110.59,444.71 L111.97,445.09 L113.35,445.46 L114.73,445.83 L116.1,446.19 L117.48,446.55 L118.86,446.9 L120.24,447.25 L121.62,447.59 L123,447.93 L124.38,448.26 L125.76,448.58 L127.14,448.9 L128.52,449.2 L129.9,449.5 L131.28,449.8 L132.66,450.08 L134.04,450.36 L135.42,450.62 L136.79,450.88 L138.17,451.13 L139.55,451.36 L140.93,451.59 L142.31,451.81 L143.69,452.01 L145.07,452.21 L146.45,452.39 L147.83,452.56 L149.21,452.73 L150.59,452.88 L151.97,453.02 L153.35,453.16 L154.73,453.29 L156.11,453.42 L157.48,453.54 L158.86,453.67 L160.24,453.79 L161.62,453.92 L163,454.05 L164.38,454.18 L165.76,454.33 L167.14,454.48 L168.52,454.63 L169.9,454.8 L171.28,454.99 L172.66,455.18 L174.04,455.39 L175.42,455.62 L176.8,455.87 L178.17,456.13 L179.55,456.42 L180.93,456.72 L182.31,457.06 L183.69,457.41 L185.07,457.79 L186.45,458.2 L187.83,458.62 L189.21,459.07 L190.59,459.55 L191.97,460.04 L193.35,460.56 L194.73,461.1 L196.11,461.65 L197.49,462.23 L198.86,462.83 L200.24,463.44 L201.62,464.06 L203,464.69 L204.38,465.33 L205.76,465.97 L207.14,466.61 L208.52,467.26 L209.9,467.9 L211.28,468.53 L212.66,469.15 L214.04,469.76 L215.42,470.36 L216.8,470.94 L218.18,471.5 L219.55,472.04 L220.93,472.56 L222.31,473.05 L223.69,473.5 L225.07,473.93 L226.45,474.32 L227.83,474.67 L229.21,474.98 L230.59,475.24 L231.97,475.46 L233.35,475.64 L234.73,475.76 L236.11,475.83 L236.93,475.84" class="ds" stroke-dasharray="4.4,4"/>
<circle cx="77.35" cy="434.56" r="1.85" class="ci"/>
<circle cx="77.35" cy="435.56" r="1.85" class="ci"/>
<circle cx="98.59" cy="450.21" r="1.85" class="ci"/>
<circle cx="98.59" cy="453.53" r="1.85" class="ci"/>
<circle cx="114.45" cy="437.23" r="1.85" class="ci"/>
<circle cx="114.45" cy="440.22" r="1.85" class="ci"/>
<circle cx="143.55" cy="441.55" r="1.85" class="ci"/>
<circle cx="143.55" cy="447.88" r="1.85" class="ci"/>
<circle cx="209.35" cy="467.18" r="1.85" class="ci"/>
<circle cx="209.35" cy="471.84" r="1.85" class="ci"/>
<circle cx="229.76" cy="474.17" r="1.85" class="ci"/>
<circle cx="229.76" cy="473.17" r="1.85" class="ci"/>
<line x1="43" y1="390.8" x2="43" y2="558.7" class="ax" style="stroke-width:2"/>
<line x1="42" y1="557.7" x2="250.4" y2="557.7" class="ax"/>
<text transform="translate(33,395) scale(0.95,1)" class="tl" text-anchor="end">0.0</text>
<text transform="translate(33,428.28) scale(0.95,1)" class="tl" text-anchor="end">-1.0</text>
<text transform="translate(33,461.56) scale(0.95,1)" class="tl" text-anchor="end">-2.0</text>
<text transform="translate(33,494.84) scale(0.95,1)" class="tl" text-anchor="end">-3.0</text>
<text transform="translate(33,528.12) scale(0.95,1)" class="tl" text-anchor="end">-4.0</text>
<text transform="translate(33,561.4) scale(0.95,1)" class="tl" text-anchor="end">-5.0</text>
<text transform="translate(43,574.5) scale(0.95,1)" class="tl" text-anchor="middle">0</text>
<text transform="translate(111.97,574.5) scale(0.95,1)" class="tl" text-anchor="middle">50</text>
<text transform="translate(180.93,574.5) scale(0.95,1)" class="tl" text-anchor="middle">100</text>
<text transform="translate(249.9,574.5) scale(0.95,1)" class="tl" text-anchor="middle">150</text>
<text transform="translate(10,474.5) rotate(-90)" class="yt" text-anchor="middle">logA(f,r)</text>
<text x="247.6" y="407.4" class="fl" text-anchor="end">10.0 Hz</text>
<line x1="375.73" y1="392" x2="375.73" y2="558.4" class="gr"/>
<line x1="444.87" y1="392" x2="444.87" y2="558.4" class="gr"/>
<line x1="306.6" y1="425.28" x2="514" y2="425.28" class="gr"/>
<line x1="306.6" y1="458.56" x2="514" y2="458.56" class="gr"/>
<line x1="306.6" y1="491.84" x2="514" y2="491.84" class="gr"/>
<line x1="306.6" y1="525.12" x2="514" y2="525.12" class="gr"/>
<rect x="306.6" y="392" width="207.4" height="166.4" class="bd"/>
<path d="M306.6,392 L307.98,392.42 L309.37,392.84 L310.75,393.25 L312.13,393.66 L313.51,394.06 L314.9,394.45 L316.28,394.85 L317.66,395.23 L319.04,395.62 L320.43,396 L321.81,396.38 L323.19,396.75 L324.57,397.12 L325.96,397.48 L327.34,397.84 L328.72,398.2 L330.11,398.55 L331.49,398.9 L332.87,399.25 L334.25,399.6 L335.64,399.94 L337.02,400.27 L338.4,400.61 L339.78,400.94 L341.17,401.27 L342.55,401.59 L343.93,401.92 L345.31,402.24 L346.7,402.56 L348.08,402.87 L349.46,403.18 L350.85,403.5 L352.23,403.8 L353.61,404.11 L354.99,404.41 L356.38,404.72 L357.76,405.02 L359.14,405.31 L360.52,405.61 L361.91,405.91 L363.29,406.2 L364.67,406.49 L366.05,406.78 L367.44,407.07 L368.82,407.36 L370.2,407.64 L371.59,407.93 L372.97,408.21 L374.35,408.49 L375.73,408.78 L377.12,409.06 L378.5,409.34 L379.88,409.62 L381.26,409.9 L382.65,410.17 L384.03,410.45 L385.41,410.73 L386.79,411.01 L388.18,411.28 L389.56,411.55 L390.94,411.81 L392.33,412.05 L393.71,412.28 L395.09,412.49 L396.47,412.68 L397.86,412.84 L399.24,412.97 L400.62,413.07 L402,413.13 L403.39,413.15 L404.77,413.12 L406.15,413.05 L407.53,412.93 L408.92,412.75 L410.3,412.52 L411.68,412.23 L413.07,411.88 L414.45,411.49 L415.83,411.08 L417.21,410.65 L418.6,410.23 L419.98,409.82 L421.36,409.45 L422.74,409.1 L424.13,408.8 L425.51,408.54 L426.89,408.33 L428.27,408.18 L429.66,408.09 L431.04,408.06 L432.42,408.1 L433.81,408.21 L435.19,408.39 L436.57,408.63 L437.95,408.93 L439.34,409.3 L440.72,409.73 L442.1,410.23 L443.48,410.78 L444.87,411.4 L446.25,412.07 L447.63,412.8 L449.01,413.59 L450.4,414.44 L451.78,415.34 L453.16,416.29 L454.55,417.3 L455.93,418.35 L457.31,419.45 L458.69,420.57 L460.08,421.71 L461.46,422.88 L462.84,424.05 L464.22,425.22 L465.61,426.39 L466.99,427.55 L468.37,428.68 L469.75,429.79 L471.14,430.88 L472.52,431.94 L473.9,432.98 L475.29,434 L476.67,435 L478.05,435.99 L479.43,436.95 L480.82,437.9 L482.2,438.83 L483.58,439.76 L484.96,440.66 L486.35,441.56 L487.73,442.45 L489.11,443.33 L490.49,444.21 L491.88,445.07 L493.26,445.94 L494.64,446.8 L496.03,447.66 L497.41,448.52 L498.79,449.38 L500.17,450.24" class="sl"/>
<path d="M306.6,436.93 L307.98,437.31 L309.37,437.69 L310.75,438.06 L312.13,438.43 L313.51,438.79 L314.9,439.15 L316.28,439.5 L317.66,439.84 L319.04,440.19 L320.43,440.53 L321.81,440.86 L323.19,441.19 L324.57,441.52 L325.96,441.85 L327.34,442.17 L328.72,442.49 L330.11,442.81 L331.49,443.12 L332.87,443.43 L334.25,443.74 L335.64,444.05 L337.02,444.35 L338.4,444.66 L339.78,444.96 L341.17,445.26 L342.55,445.57 L343.93,445.87 L345.31,446.17 L346.7,446.47 L348.08,446.77 L349.46,447.06 L350.85,447.36 L352.23,447.66 L353.61,447.97 L354.99,448.27 L356.38,448.57 L357.76,448.87 L359.14,449.18 L360.52,449.49 L361.91,449.79 L363.29,450.11 L364.67,450.42 L366.05,450.73 L367.44,451.05 L368.82,451.37 L370.2,451.7 L371.59,452.02 L372.97,452.35 L374.35,452.69 L375.73,453.02 L377.12,453.37 L378.5,453.71 L379.88,454.06 L381.26,454.41 L382.65,454.77 L384.03,455.14 L385.41,455.51 L386.79,455.88 L388.18,456.25 L389.56,456.62 L390.94,456.97 L392.33,457.3 L393.71,457.61 L395.09,457.87 L396.47,458.09 L397.86,458.27 L399.24,458.38 L400.62,458.43 L402,458.4 L403.39,458.3 L404.77,458.12 L406.15,457.89 L407.53,457.6 L408.92,457.27 L410.3,456.91 L411.68,456.52 L413.07,456.12 L414.45,455.71 L415.83,455.3 L417.21,454.91 L418.6,454.54 L419.98,454.2 L421.36,453.9 L422.74,453.63 L424.13,453.4 L425.51,453.2 L426.89,453.04 L428.27,452.91 L429.66,452.81 L431.04,452.75 L432.42,452.74 L433.81,452.78 L435.19,452.89 L436.57,453.07 L437.95,453.34 L439.34,453.7 L440.72,454.17 L442.1,454.74 L443.48,455.4 L444.87,456.14 L446.25,456.95 L447.63,457.83 L449.01,458.76 L450.4,459.73 L451.78,460.74 L453.16,461.77 L454.55,462.82 L455.93,463.88 L457.31,464.94 L458.69,466 L460.08,467.07 L461.46,468.13 L462.84,469.2 L464.22,470.26 L465.61,471.32 L466.99,472.38 L468.37,473.42 L469.75,474.46 L471.14,475.48 L472.52,476.49 L473.9,477.49 L475.29,478.47 L476.67,479.44 L478.05,480.38 L479.43,481.31 L480.82,482.21 L482.2,483.09 L483.58,483.95 L484.96,484.77 L486.35,485.59 L487.73,486.39 L489.11,487.2 L490.49,488.02 L491.88,488.86 L493.26,489.74 L494.64,490.66 L496.03,491.63 L497.41,492.67 L498.79,493.78 L499.9,494.73" class="ds" stroke-dasharray="4.4,4"/>
<circle cx="340.34" cy="429.27" r="1.85" class="ci"/>
<circle cx="340.34" cy="435.6" r="1.85" class="ci"/>
<circle cx="361.91" cy="467.55" r="1.85" class="ci"/>
<circle cx="377.95" cy="443.92" r="1.85" class="ci"/>
<circle cx="406.57" cy="439.92" r="1.85" class="ci"/>
<circle cx="406.57" cy="445.91" r="1.85" class="ci"/>
<circle cx="472.52" cy="483.52" r="1.85" class="ci"/>
<circle cx="472.52" cy="487.51" r="1.85" class="ci"/>
<circle cx="493.26" cy="497.5" r="1.85" class="ci"/>
<line x1="306.6" y1="391.5" x2="306.6" y2="559.4" class="ax" style="stroke-width:1.5"/>
<line x1="305.6" y1="558.4" x2="514.5" y2="558.4" class="ax"/>
<text transform="translate(296.6,395.7) scale(0.95,1)" class="tl" text-anchor="end">0.0</text>
<text transform="translate(296.6,428.98) scale(0.95,1)" class="tl" text-anchor="end">-1.0</text>
<text transform="translate(296.6,462.26) scale(0.95,1)" class="tl" text-anchor="end">-2.0</text>
<text transform="translate(296.6,495.54) scale(0.95,1)" class="tl" text-anchor="end">-3.0</text>
<text transform="translate(296.6,528.82) scale(0.95,1)" class="tl" text-anchor="end">-4.0</text>
<text transform="translate(296.6,562.1) scale(0.95,1)" class="tl" text-anchor="end">-5.0</text>
<text transform="translate(306.6,575.2) scale(0.95,1)" class="tl" text-anchor="middle">0</text>
<text transform="translate(375.73,575.2) scale(0.95,1)" class="tl" text-anchor="middle">50</text>
<text transform="translate(444.87,575.2) scale(0.95,1)" class="tl" text-anchor="middle">100</text>
<text transform="translate(514,575.2) scale(0.95,1)" class="tl" text-anchor="middle">150</text>
<text transform="translate(273.6,475.2) rotate(-90)" class="yt" text-anchor="middle">logA(f,r)</text>
<text x="511.2" y="407.4" class="fl" text-anchor="end">20.0 Hz</text>
<line x1="111.97" y1="586" x2="111.97" y2="752.3" class="gr"/>
<line x1="180.93" y1="586" x2="180.93" y2="752.3" class="gr"/>
<line x1="43" y1="619.26" x2="249.9" y2="619.26" class="gr"/>
<line x1="43" y1="652.52" x2="249.9" y2="652.52" class="gr"/>
<line x1="43" y1="685.78" x2="249.9" y2="685.78" class="gr"/>
<line x1="43" y1="719.04" x2="249.9" y2="719.04" class="gr"/>
<rect x="43" y="586" width="206.9" height="166.3" class="bd"/>
<path d="M43,586 L44.38,586.4 L45.76,586.78 L47.14,587.12 L48.52,587.43 L49.9,587.72 L51.28,587.98 L52.66,588.22 L54.03,588.44 L55.41,588.65 L56.79,588.83 L58.17,589.01 L59.55,589.17 L60.93,589.33 L62.31,589.47 L63.69,589.61 L65.07,589.75 L66.45,589.89 L67.83,590.03 L69.21,590.17 L70.59,590.32 L71.97,590.47 L73.35,590.64 L74.72,590.81 L76.1,591 L77.48,591.21 L78.86,591.43 L80.24,591.67 L81.62,591.94 L83,592.23 L84.38,592.54 L85.76,592.87 L87.14,593.22 L88.52,593.59 L89.9,593.97 L91.28,594.38 L92.66,594.8 L94.04,595.23 L95.41,595.68 L96.79,596.15 L98.17,596.62 L99.55,597.11 L100.93,597.61 L102.31,598.12 L103.69,598.63 L105.07,599.15 L106.45,599.67 L107.83,600.19 L109.21,600.71 L110.59,601.23 L111.97,601.74 L113.35,602.25 L114.73,602.75 L116.1,603.24 L117.48,603.72 L118.86,604.18 L120.24,604.63 L121.62,605.06 L123,605.48 L124.38,605.87 L125.76,606.24 L127.14,606.6 L128.52,606.93 L129.9,607.25 L131.28,607.55 L132.66,607.83 L134.04,608.09 L135.42,608.34 L136.79,608.56 L138.17,608.77 L139.55,608.96 L140.93,609.13 L142.31,609.28 L143.69,609.42 L145.07,609.54 L146.45,609.64 L147.83,609.73 L149.21,609.8 L150.59,609.85 L151.97,609.88 L153.35,609.9 L154.73,609.9 L156.11,609.89 L157.48,609.86 L158.86,609.83 L160.24,609.79 L161.62,609.76 L163,609.74 L164.38,609.73 L165.76,609.75 L167.14,609.79 L168.52,609.87 L169.9,609.98 L171.28,610.14 L172.66,610.34 L174.04,610.6 L175.42,610.92 L176.8,611.31 L178.17,611.75 L179.55,612.24 L180.93,612.79 L182.31,613.38 L183.69,614.01 L185.07,614.68 L186.45,615.39 L187.83,616.12 L189.21,616.88 L190.59,617.66 L191.97,618.46 L193.35,619.27 L194.73,620.1 L196.11,620.94 L197.49,621.8 L198.86,622.66 L200.24,623.53 L201.62,624.4 L203,625.27 L204.38,626.14 L205.76,627.01 L207.14,627.88 L208.52,628.73 L209.9,629.58 L211.28,630.42 L212.66,631.24 L214.04,632.04 L215.42,632.83 L216.8,633.6 L218.18,634.35 L219.55,635.09 L220.93,635.83 L222.31,636.56 L223.69,637.3 L225.07,638.05 L226.45,638.81 L227.83,639.59 L229.21,640.38 L230.59,641.21 L231.97,642.07 L233.35,642.96 L234.73,643.89 L236.11,644.87 L236.38,645.07" class="sl"/>
<path d="M43,633.57 L44.38,633.79 L45.76,634.01 L47.14,634.22 L48.52,634.43 L49.9,634.64 L51.28,634.85 L52.66,635.06 L54.03,635.27 L55.41,635.48 L56.79,635.69 L58.17,635.9 L59.55,636.11 L60.93,636.33 L62.31,636.55 L63.69,636.77 L65.07,636.99 L66.45,637.22 L67.83,637.46 L69.21,637.7 L70.59,637.94 L71.97,638.2 L73.35,638.46 L74.72,638.72 L76.1,639 L77.48,639.28 L78.86,639.58 L80.24,639.88 L81.62,640.2 L83,640.52 L84.38,640.86 L85.76,641.21 L87.14,641.57 L88.52,641.94 L89.9,642.33 L91.28,642.73 L92.66,643.14 L94.04,643.57 L95.41,644.02 L96.79,644.48 L98.17,644.96 L99.55,645.46 L100.93,645.97 L102.31,646.5 L103.69,647.03 L105.07,647.58 L106.45,648.13 L107.83,648.68 L109.21,649.23 L110.59,649.78 L111.97,650.33 L113.35,650.87 L114.73,651.4 L116.1,651.92 L117.48,652.43 L118.86,652.91 L120.24,653.38 L121.62,653.83 L123,654.25 L124.38,654.65 L125.76,655.02 L127.14,655.37 L128.52,655.69 L129.9,655.98 L131.28,656.25 L132.66,656.48 L134.04,656.69 L135.42,656.87 L136.79,657.02 L138.17,657.14 L139.55,657.22 L140.93,657.28 L142.31,657.31 L143.69,657.31 L145.07,657.3 L146.45,657.27 L147.83,657.23 L149.21,657.19 L150.59,657.15 L151.97,657.12 L153.35,657.09 L154.73,657.08 L156.11,657.1 L157.48,657.13 L158.86,657.19 L160.24,657.27 L161.62,657.37 L163,657.5 L164.38,657.65 L165.76,657.82 L167.14,658.02 L168.52,658.24 L169.9,658.49 L171.28,658.76 L172.66,659.06 L174.04,659.38 L175.42,659.73 L176.8,660.1 L178.17,660.51 L179.55,660.93 L180.93,661.39 L182.31,661.87 L183.69,662.38 L185.07,662.92 L186.45,663.49 L187.83,664.08 L189.21,664.71 L190.59,665.36 L191.97,666.04 L193.35,666.75 L194.73,667.48 L196.11,668.23 L197.49,669.01 L198.86,669.81 L200.24,670.63 L201.62,671.46 L203,672.31 L204.38,673.17 L205.76,674.04 L207.14,674.92 L208.52,675.81 L209.9,676.71 L211.28,677.61 L212.66,678.52 L214.04,679.43 L215.42,680.33 L216.8,681.24 L218.18,682.14 L219.55,683.04 L220.93,683.93 L222.31,684.82 L223.69,685.69 L225.07,686.55 L226.45,687.4 L227.83,688.23 L229.21,689.05 L230.59,689.85 L231.97,690.62 L233.35,691.38 L234.04,691.75" class="ds" stroke-dasharray="4.4,4"/>
<circle cx="77.35" cy="614.27" r="1.85" class="ci"/>
<circle cx="77.35" cy="617.93" r="1.85" class="ci"/>
<circle cx="98.59" cy="667.15" r="1.85" class="ci"/>
<circle cx="98.59" cy="673.81" r="1.85" class="ci"/>
<circle cx="114.45" cy="655.18" r="1.85" class="ci"/>
<circle cx="114.45" cy="657.18" r="1.85" class="ci"/>
<circle cx="143.55" cy="639.55" r="1.85" class="ci"/>
<circle cx="143.55" cy="640.21" r="1.85" class="ci"/>
<circle cx="208.93" cy="675.47" r="1.85" class="ci"/>
<circle cx="208.93" cy="683.78" r="1.85" class="ci"/>
<circle cx="229.76" cy="695.43" r="1.85" class="ci"/>
<line x1="43" y1="585.5" x2="43" y2="753.3" class="ax" style="stroke-width:2"/>
<line x1="42" y1="752.3" x2="250.4" y2="752.3" class="ax"/>
<text transform="translate(33,589.7) scale(0.95,1)" class="tl" text-anchor="end">0.0</text>
<text transform="translate(33,622.96) scale(0.95,1)" class="tl" text-anchor="end">-1.0</text>
<text transform="translate(33,656.22) scale(0.95,1)" class="tl" text-anchor="end">-2.0</text>
<text transform="translate(33,689.48) scale(0.95,1)" class="tl" text-anchor="end">-3.0</text>
<text transform="translate(33,722.74) scale(0.95,1)" class="tl" text-anchor="end">-4.0</text>
<text transform="translate(33,756) scale(0.95,1)" class="tl" text-anchor="end">-5.0</text>
<text transform="translate(43,769.1) scale(0.95,1)" class="tl" text-anchor="middle">0</text>
<text transform="translate(111.97,769.1) scale(0.95,1)" class="tl" text-anchor="middle">50</text>
<text transform="translate(180.93,769.1) scale(0.95,1)" class="tl" text-anchor="middle">100</text>
<text transform="translate(249.9,769.1) scale(0.95,1)" class="tl" text-anchor="middle">150</text>
<text transform="translate(10,669.15) rotate(-90)" class="yt" text-anchor="middle">logA(f,r)</text>
<text x="248" y="601.3" class="fl" text-anchor="end">31.6 Hz</text>
<line x1="375.73" y1="585.6" x2="375.73" y2="751.9" class="gr"/>
<line x1="444.87" y1="585.6" x2="444.87" y2="751.9" class="gr"/>
<line x1="306.6" y1="618.86" x2="514" y2="618.86" class="gr"/>
<line x1="306.6" y1="652.12" x2="514" y2="652.12" class="gr"/>
<line x1="306.6" y1="685.38" x2="514" y2="685.38" class="gr"/>
<line x1="306.6" y1="718.64" x2="514" y2="718.64" class="gr"/>
<rect x="306.6" y="585.6" width="207.4" height="166.3" class="bd"/>
<path d="M306.6,585.6 L307.98,586.15 L309.37,586.7 L310.75,587.24 L312.13,587.78 L313.51,588.31 L314.9,588.83 L316.28,589.35 L317.66,589.86 L319.04,590.37 L320.43,590.87 L321.81,591.37 L323.19,591.87 L324.57,592.36 L325.96,592.84 L327.34,593.33 L328.72,593.81 L330.11,594.28 L331.49,594.76 L332.87,595.23 L334.25,595.69 L335.64,596.16 L337.02,596.62 L338.4,597.08 L339.78,597.54 L341.17,597.99 L342.55,598.44 L343.93,598.9 L345.31,599.35 L346.7,599.8 L348.08,600.25 L349.46,600.69 L350.85,601.14 L352.23,601.59 L353.61,602.03 L354.99,602.48 L356.38,602.93 L357.76,603.37 L359.14,603.82 L360.52,604.27 L361.91,604.72 L363.29,605.17 L364.67,605.62 L366.05,606.07 L367.44,606.53 L368.82,606.98 L370.2,607.44 L371.59,607.9 L372.97,608.36 L374.35,608.83 L375.73,609.3 L377.12,609.77 L378.5,610.24 L379.88,610.72 L381.26,611.2 L382.65,611.68 L384.03,612.17 L385.41,612.66 L386.79,613.16 L388.18,613.66 L389.56,614.16 L390.94,614.65 L392.33,615.14 L393.71,615.62 L395.09,616.09 L396.47,616.54 L397.86,616.97 L399.24,617.39 L400.62,617.78 L402,618.14 L403.39,618.48 L404.77,618.78 L406.15,619.05 L407.53,619.28 L408.92,619.48 L410.3,619.65 L411.68,619.79 L413.07,619.9 L414.45,620 L415.83,620.08 L417.21,620.15 L418.6,620.21 L419.98,620.26 L421.36,620.31 L422.74,620.36 L424.13,620.42 L425.51,620.48 L426.89,620.56 L428.27,620.65 L429.66,620.76 L431.04,620.89 L432.42,621.05 L433.81,621.23 L435.19,621.45 L436.57,621.71 L437.95,622 L439.34,622.33 L440.72,622.7 L442.1,623.11 L443.48,623.56 L444.87,624.04 L446.25,624.55 L447.63,625.09 L449.01,625.66 L450.4,626.26 L451.78,626.88 L453.16,627.52 L454.55,628.19 L455.93,628.88 L457.31,629.58 L458.69,630.3 L460.08,631.03 L461.46,631.78 L462.84,632.54 L464.22,633.31 L465.61,634.09 L466.99,634.87 L468.37,635.66 L469.75,636.45 L471.14,637.24 L472.52,638.04 L473.9,638.83 L475.29,639.62 L476.67,640.41 L478.05,641.19 L479.43,641.96 L480.82,642.72 L482.2,643.47 L483.58,644.21 L484.96,644.93 L486.35,645.64 L487.73,646.33 L489.11,647 L490.49,647.66 L491.88,648.28 L493.26,648.89 L494.64,649.47 L496.03,650.02 L497.41,650.54 L498.79,651.04 L500.17,651.5 L500.86,651.72" class="sl"/>
<path d="M306.6,629.51 L307.98,629.89 L309.37,630.28 L310.75,630.67 L312.13,631.07 L313.51,631.47 L314.9,631.88 L316.28,632.29 L317.66,632.7 L319.04,633.12 L320.43,633.55 L321.81,633.97 L323.19,634.4 L324.57,634.84 L325.96,635.27 L327.34,635.71 L328.72,636.16 L330.11,636.61 L331.49,637.06 L332.87,637.51 L334.25,637.97 L335.64,638.43 L337.02,638.89 L338.4,639.36 L339.78,639.83 L341.17,640.3 L342.55,640.77 L343.93,641.25 L345.31,641.73 L346.7,642.21 L348.08,642.69 L349.46,643.18 L350.85,643.67 L352.23,644.16 L353.61,644.65 L354.99,645.14 L356.38,645.64 L357.76,646.14 L359.14,646.63 L360.52,647.13 L361.91,647.64 L363.29,648.14 L364.67,648.64 L366.05,649.15 L367.44,649.65 L368.82,650.16 L370.2,650.67 L371.59,651.18 L372.97,651.69 L374.35,652.2 L375.73,652.71 L377.12,653.22 L378.5,653.73 L379.88,654.24 L381.26,654.74 L382.65,655.25 L384.03,655.75 L385.41,656.24 L386.79,656.74 L388.18,657.22 L389.56,657.7 L390.94,658.17 L392.33,658.63 L393.71,659.08 L395.09,659.52 L396.47,659.95 L397.86,660.36 L399.24,660.77 L400.62,661.16 L402,661.53 L403.39,661.89 L404.77,662.24 L406.15,662.56 L407.53,662.87 L408.92,663.16 L410.3,663.43 L411.68,663.68 L413.07,663.91 L414.45,664.12 L415.83,664.3 L417.21,664.46 L418.6,664.6 L419.98,664.71 L421.36,664.8 L422.74,664.87 L424.13,664.92 L425.51,664.97 L426.89,665.02 L428.27,665.07 L429.66,665.12 L431.04,665.19 L432.42,665.28 L433.81,665.39 L435.19,665.53 L436.57,665.7 L437.95,665.91 L439.34,666.16 L440.72,666.45 L442.1,666.78 L443.48,667.15 L444.87,667.55 L446.25,667.99 L447.63,668.46 L449.01,668.97 L450.4,669.5 L451.78,670.07 L453.16,670.66 L454.55,671.28 L455.93,671.93 L457.31,672.6 L458.69,673.29 L460.08,674 L461.46,674.72 L462.84,675.46 L464.22,676.22 L465.61,676.99 L466.99,677.77 L468.37,678.55 L469.75,679.35 L471.14,680.14 L472.52,680.94 L473.9,681.74 L475.29,682.54 L476.67,683.34 L478.05,684.13 L479.43,684.91 L480.82,685.69 L482.2,686.45 L483.58,687.2 L484.96,687.94 L486.35,688.67 L487.73,689.38 L489.11,690.08 L490.49,690.76 L491.88,691.42 L493.26,692.06 L494.64,692.68 L496.03,693.28 L497.41,693.85 L497.82,694.02" class="ds" stroke-dasharray="4.4,4"/>
<circle cx="340.75" cy="614.2" r="1.85" class="ci"/>
<circle cx="340.75" cy="615.2" r="1.85" class="ci"/>
<circle cx="362.32" cy="667.42" r="1.85" class="ci"/>
<circle cx="362.32" cy="676.73" r="1.85" class="ci"/>
<circle cx="378.64" cy="658.77" r="1.85" class="ci"/>
<circle cx="378.64" cy="664.76" r="1.85" class="ci"/>
<circle cx="407.12" cy="649.13" r="1.85" class="ci"/>
<circle cx="407.12" cy="651.79" r="1.85" class="ci"/>
<circle cx="472.93" cy="686.38" r="1.85" class="ci"/>
<circle cx="493.81" cy="697.02" r="1.85" class="ci"/>
<line x1="306.6" y1="585.1" x2="306.6" y2="752.9" class="ax" style="stroke-width:1.5"/>
<line x1="305.6" y1="751.9" x2="514.5" y2="751.9" class="ax"/>
<text transform="translate(296.6,589.3) scale(0.95,1)" class="tl" text-anchor="end">0.0</text>
<text transform="translate(296.6,622.56) scale(0.95,1)" class="tl" text-anchor="end">-1.0</text>
<text transform="translate(296.6,655.82) scale(0.95,1)" class="tl" text-anchor="end">-2.0</text>
<text transform="translate(296.6,689.08) scale(0.95,1)" class="tl" text-anchor="end">-3.0</text>
<text transform="translate(296.6,722.34) scale(0.95,1)" class="tl" text-anchor="end">-4.0</text>
<text transform="translate(296.6,755.6) scale(0.95,1)" class="tl" text-anchor="end">-5.0</text>
<text transform="translate(306.6,768.7) scale(0.95,1)" class="tl" text-anchor="middle">0</text>
<text transform="translate(375.73,768.7) scale(0.95,1)" class="tl" text-anchor="middle">50</text>
<text transform="translate(444.87,768.7) scale(0.95,1)" class="tl" text-anchor="middle">100</text>
<text transform="translate(514,768.7) scale(0.95,1)" class="tl" text-anchor="middle">150</text>
<text transform="translate(273.6,668.75) rotate(-90)" class="yt" text-anchor="middle">logA(f,r)</text>
<text x="511.6" y="600.8" class="fl" text-anchor="end">40.0 Hz</text>
<line x1="111.97" y1="778.4" x2="111.97" y2="944.9" class="gr"/>
<line x1="180.93" y1="778.4" x2="180.93" y2="944.9" class="gr"/>
<line x1="43" y1="811.7" x2="249.9" y2="811.7" class="gr"/>
<line x1="43" y1="845" x2="249.9" y2="845" class="gr"/>
<line x1="43" y1="878.3" x2="249.9" y2="878.3" class="gr"/>
<line x1="43" y1="911.6" x2="249.9" y2="911.6" class="gr"/>
<rect x="43" y="778.4" width="206.9" height="166.5" class="bd"/>
<path d="M43,778.4 L44.38,778.82 L45.76,779.24 L47.14,779.66 L48.52,780.08 L49.9,780.51 L51.28,780.94 L52.66,781.37 L54.03,781.8 L55.41,782.24 L56.79,782.68 L58.17,783.12 L59.55,783.56 L60.93,784.01 L62.31,784.45 L63.69,784.9 L65.07,785.34 L66.45,785.79 L67.83,786.24 L69.21,786.69 L70.59,787.14 L71.97,787.59 L73.35,788.04 L74.72,788.49 L76.1,788.94 L77.48,789.39 L78.86,789.84 L80.24,790.29 L81.62,790.74 L83,791.18 L84.38,791.63 L85.76,792.07 L87.14,792.52 L88.52,792.96 L89.9,793.4 L91.28,793.83 L92.66,794.27 L94.04,794.7 L95.41,795.13 L96.79,795.56 L98.17,795.99 L99.55,796.41 L100.93,796.83 L102.31,797.24 L103.69,797.66 L105.07,798.07 L106.45,798.47 L107.83,798.87 L109.21,799.27 L110.59,799.67 L111.97,800.06 L113.35,800.44 L114.73,800.82 L116.1,801.2 L117.48,801.57 L118.86,801.93 L120.24,802.29 L121.62,802.64 L123,802.99 L124.38,803.33 L125.76,803.66 L127.14,803.99 L128.52,804.31 L129.9,804.62 L131.28,804.92 L132.66,805.22 L134.04,805.51 L135.42,805.78 L136.79,806.05 L138.17,806.32 L139.55,806.57 L140.93,806.81 L142.31,807.04 L143.69,807.27 L145.07,807.48 L146.45,807.69 L147.83,807.9 L149.21,808.09 L150.59,808.29 L151.97,808.48 L153.35,808.66 L154.73,808.85 L156.11,809.03 L157.48,809.21 L158.86,809.4 L160.24,809.58 L161.62,809.76 L163,809.95 L164.38,810.14 L165.76,810.33 L167.14,810.53 L168.52,810.74 L169.9,810.95 L171.28,811.16 L172.66,811.39 L174.04,811.62 L175.42,811.86 L176.8,812.11 L178.17,812.38 L179.55,812.65 L180.93,812.94 L182.31,813.24 L183.69,813.55 L185.07,813.88 L186.45,814.22 L187.83,814.57 L189.21,814.93 L190.59,815.3 L191.97,815.69 L193.35,816.08 L194.73,816.49 L196.11,816.91 L197.49,817.33 L198.86,817.77 L200.24,818.22 L201.62,818.67 L203,819.13 L204.38,819.6 L205.76,820.08 L207.14,820.57 L208.52,821.06 L209.9,821.57 L211.28,822.07 L212.66,822.59 L214.04,823.11 L215.42,823.63 L216.8,824.16 L218.18,824.7 L219.55,825.24 L220.93,825.78 L222.31,826.33 L223.69,826.88 L225.07,827.44 L226.45,828 L227.83,828.56 L229.21,829.12 L230.59,829.68 L231.97,830.25 L233.35,830.82 L234.73,831.39 L236.11,831.96 L236.8,832.24" class="sl"/>
<path d="M43,833.68 L44.38,833.93 L45.76,834.19 L47.14,834.46 L48.52,834.75 L49.9,835.05 L51.28,835.36 L52.66,835.68 L54.03,836.01 L55.41,836.36 L56.79,836.71 L58.17,837.07 L59.55,837.45 L60.93,837.83 L62.31,838.22 L63.69,838.62 L65.07,839.02 L66.45,839.44 L67.83,839.86 L69.21,840.29 L70.59,840.72 L71.97,841.16 L73.35,841.61 L74.72,842.06 L76.1,842.51 L77.48,842.97 L78.86,843.43 L80.24,843.9 L81.62,844.37 L83,844.84 L84.38,845.32 L85.76,845.79 L87.14,846.27 L88.52,846.75 L89.9,847.23 L91.28,847.71 L92.66,848.19 L94.04,848.67 L95.41,849.15 L96.79,849.62 L98.17,850.1 L99.55,850.57 L100.93,851.04 L102.31,851.51 L103.69,851.97 L105.07,852.43 L106.45,852.89 L107.83,853.34 L109.21,853.79 L110.59,854.23 L111.97,854.66 L113.35,855.09 L114.73,855.52 L116.1,855.93 L117.48,856.34 L118.86,856.74 L120.24,857.13 L121.62,857.52 L123,857.9 L124.38,858.26 L125.76,858.62 L127.14,858.97 L128.52,859.31 L129.9,859.64 L131.28,859.96 L132.66,860.26 L134.04,860.56 L135.42,860.84 L136.79,861.12 L138.17,861.38 L139.55,861.63 L140.93,861.86 L142.31,862.08 L143.69,862.29 L145.07,862.5 L146.45,862.69 L147.83,862.88 L149.21,863.06 L150.59,863.23 L151.97,863.4 L153.35,863.57 L154.73,863.74 L156.11,863.9 L157.48,864.07 L158.86,864.24 L160.24,864.42 L161.62,864.6 L163,864.79 L164.38,864.98 L165.76,865.18 L167.14,865.4 L168.52,865.62 L169.9,865.85 L171.28,866.1 L172.66,866.35 L174.04,866.62 L175.42,866.9 L176.8,867.19 L178.17,867.5 L179.55,867.82 L180.93,868.15 L182.31,868.5 L183.69,868.86 L185.07,869.24 L186.45,869.63 L187.83,870.03 L189.21,870.45 L190.59,870.87 L191.97,871.31 L193.35,871.76 L194.73,872.22 L196.11,872.68 L197.49,873.16 L198.86,873.64 L200.24,874.13 L201.62,874.63 L203,875.13 L204.38,875.64 L205.76,876.15 L207.14,876.67 L208.52,877.19 L209.9,877.71 L211.28,878.23 L212.66,878.76 L214.04,879.29 L215.42,879.82 L216.8,880.34 L218.18,880.87 L219.55,881.4 L220.93,881.92 L222.31,882.44 L223.69,882.96 L225.07,883.47 L226.45,883.98 L227.83,884.48 L229.21,884.98 L230.59,885.47 L231.97,885.96 L233.35,886.43 L234.73,886.9 L236.11,887.36 L236.93,887.63" class="ds" stroke-dasharray="4.4,4"/>
<circle cx="76.66" cy="820.69" r="1.85" class="ci"/>
<circle cx="76.66" cy="833.68" r="1.85" class="ci"/>
<circle cx="98.17" cy="869.64" r="1.85" class="ci"/>
<circle cx="98.17" cy="872.31" r="1.85" class="ci"/>
<circle cx="114.45" cy="860.98" r="1.85" class="ci"/>
<circle cx="114.45" cy="862.32" r="1.85" class="ci"/>
<circle cx="143.14" cy="847" r="1.85" class="ci"/>
<circle cx="143.14" cy="849.33" r="1.85" class="ci"/>
<line x1="43" y1="777.9" x2="43" y2="945.9" class="ax" style="stroke-width:2"/>
<line x1="42" y1="944.9" x2="250.4" y2="944.9" class="ax"/>
<text transform="translate(33,782.1) scale(0.95,1)" class="tl" text-anchor="end">0.0</text>
<text transform="translate(33,815.4) scale(0.95,1)" class="tl" text-anchor="end">-1.0</text>
<text transform="translate(33,848.7) scale(0.95,1)" class="tl" text-anchor="end">-2.0</text>
<text transform="translate(33,882) scale(0.95,1)" class="tl" text-anchor="end">-3.0</text>
<text transform="translate(33,915.3) scale(0.95,1)" class="tl" text-anchor="end">-4.0</text>
<text transform="translate(33,948.6) scale(0.95,1)" class="tl" text-anchor="end">-5.0</text>
<text transform="translate(43,961.7) scale(0.95,1)" class="tl" text-anchor="middle">0</text>
<text transform="translate(111.97,961.7) scale(0.95,1)" class="tl" text-anchor="middle">50</text>
<text transform="translate(180.93,961.7) scale(0.95,1)" class="tl" text-anchor="middle">100</text>
<text transform="translate(249.9,961.7) scale(0.95,1)" class="tl" text-anchor="middle">150</text>
<text transform="translate(10,861.65) rotate(-90)" class="yt" text-anchor="middle">logA(f,r)</text>
<text x="248" y="793.8" class="fl" text-anchor="end">50.1 Hz</text>
<text x="56.4" y="982" class="xt">Hypocentral Distance (km)</text>
<line x1="375.73" y1="778.3" x2="375.73" y2="944.6" class="gr"/>
<line x1="444.87" y1="778.3" x2="444.87" y2="944.6" class="gr"/>
<line x1="306.6" y1="811.56" x2="514" y2="811.56" class="gr"/>
<line x1="306.6" y1="844.82" x2="514" y2="844.82" class="gr"/>
<line x1="306.6" y1="878.08" x2="514" y2="878.08" class="gr"/>
<line x1="306.6" y1="911.34" x2="514" y2="911.34" class="gr"/>
<rect x="306.6" y="778.3" width="207.4" height="166.3" class="bd"/>
<path d="M306.6,778.3 L307.98,778.78 L309.37,779.28 L310.75,779.81 L312.13,780.37 L313.51,780.94 L314.9,781.53 L316.28,782.13 L317.66,782.75 L319.04,783.39 L320.43,784.03 L321.81,784.68 L323.19,785.35 L324.57,786.01 L325.96,786.69 L327.34,787.36 L328.72,788.04 L330.11,788.71 L331.49,789.38 L332.87,790.05 L334.25,790.71 L335.64,791.37 L337.02,792.01 L338.4,792.65 L339.78,793.27 L341.17,793.87 L342.55,794.46 L343.93,795.04 L345.31,795.59 L346.7,796.12 L348.08,796.63 L349.46,797.13 L350.85,797.6 L352.23,798.06 L353.61,798.51 L354.99,798.94 L356.38,799.35 L357.76,799.75 L359.14,800.14 L360.52,800.52 L361.91,800.88 L363.29,801.24 L364.67,801.59 L366.05,801.93 L367.44,802.27 L368.82,802.59 L370.2,802.92 L371.59,803.24 L372.97,803.56 L374.35,803.87 L375.73,804.19 L377.12,804.5 L378.5,804.81 L379.88,805.12 L381.26,805.43 L382.65,805.74 L384.03,806.05 L385.41,806.35 L386.79,806.65 L388.18,806.94 L389.56,807.23 L390.94,807.51 L392.33,807.79 L393.71,808.07 L395.09,808.33 L396.47,808.59 L397.86,808.84 L399.24,809.08 L400.62,809.32 L402,809.54 L403.39,809.76 L404.77,809.96 L406.15,810.16 L407.53,810.34 L408.92,810.52 L410.3,810.68 L411.68,810.84 L413.07,810.99 L414.45,811.14 L415.83,811.28 L417.21,811.42 L418.6,811.56 L419.98,811.69 L421.36,811.83 L422.74,811.97 L424.13,812.11 L425.51,812.26 L426.89,812.41 L428.27,812.57 L429.66,812.74 L431.04,812.91 L432.42,813.09 L433.81,813.28 L435.19,813.48 L436.57,813.68 L437.95,813.9 L439.34,814.11 L440.72,814.34 L442.1,814.57 L443.48,814.81 L444.87,815.05 L446.25,815.3 L447.63,815.56 L449.01,815.82 L450.4,816.08 L451.78,816.35 L453.16,816.62 L454.55,816.9 L455.93,817.18 L457.31,817.46 L458.69,817.75 L460.08,818.04 L461.46,818.33 L462.84,818.63 L464.22,818.92 L465.61,819.22 L466.99,819.52 L468.37,819.82 L469.75,820.12 L471.14,820.42 L472.52,820.72 L473.9,821.02 L475.29,821.31 L476.67,821.61 L478.05,821.91 L479.43,822.21 L480.82,822.5 L482.2,822.79 L483.58,823.08 L484.96,823.37 L486.35,823.66 L487.73,823.94 L489.11,824.22 L490.49,824.49 L491.88,824.76 L493.26,825.03 L494.64,825.29 L496.03,825.54 L497.41,825.79 L498.79,826.04 L500.17,826.28 L500.59,826.35" class="sl"/>
<path d="M306.6,841.49 L307.98,842.12 L309.37,842.74 L310.75,843.36 L312.13,843.98 L313.51,844.59 L314.9,845.2 L316.28,845.8 L317.66,846.4 L319.04,846.99 L320.43,847.58 L321.81,848.16 L323.19,848.74 L324.57,849.31 L325.96,849.88 L327.34,850.44 L328.72,851 L330.11,851.55 L331.49,852.1 L332.87,852.64 L334.25,853.18 L335.64,853.71 L337.02,854.23 L338.4,854.75 L339.78,855.27 L341.17,855.78 L342.55,856.28 L343.93,856.77 L345.31,857.27 L346.7,857.75 L348.08,858.23 L349.46,858.7 L350.85,859.17 L352.23,859.63 L353.61,860.09 L354.99,860.54 L356.38,860.98 L357.76,861.41 L359.14,861.84 L360.52,862.27 L361.91,862.68 L363.29,863.09 L364.67,863.5 L366.05,863.9 L367.44,864.29 L368.82,864.67 L370.2,865.05 L371.59,865.41 L372.97,865.78 L374.35,866.13 L375.73,866.48 L377.12,866.82 L378.5,867.16 L379.88,867.49 L381.26,867.81 L382.65,868.12 L384.03,868.43 L385.41,868.73 L386.79,869.03 L388.18,869.32 L389.56,869.61 L390.94,869.89 L392.33,870.16 L393.71,870.43 L395.09,870.7 L396.47,870.96 L397.86,871.22 L399.24,871.47 L400.62,871.72 L402,871.96 L403.39,872.2 L404.77,872.44 L406.15,872.68 L407.53,872.91 L408.92,873.13 L410.3,873.36 L411.68,873.58 L413.07,873.8 L414.45,874.02 L415.83,874.24 L417.21,874.45 L418.6,874.67 L419.98,874.88 L421.36,875.09 L422.74,875.3 L424.13,875.51 L425.51,875.72 L426.89,875.93 L428.27,876.14 L429.66,876.35 L431.04,876.56 L432.42,876.77 L433.81,876.98 L435.19,877.2 L436.57,877.41 L437.95,877.63 L439.34,877.85 L440.72,878.07 L442.1,878.29 L443.48,878.52 L444.87,878.74 L446.25,878.97 L447.63,879.21 L449.01,879.45 L450.4,879.69 L451.78,879.93 L453.16,880.17 L454.55,880.42 L455.93,880.67 L457.31,880.93 L458.69,881.18 L460.08,881.44 L461.46,881.7 L462.84,881.96 L464.22,882.23 L465.61,882.49 L466.99,882.76 L468.37,883.03 L469.75,883.3 L471.14,883.58 L472.52,883.85 L473.9,884.13 L475.29,884.41 L476.67,884.69 L478.05,884.97 L479.43,885.25 L480.82,885.53 L482.2,885.82 L483.58,886.1 L484.96,886.39 L486.35,886.68 L487.73,886.97 L489.11,887.25 L490.49,887.54 L491.88,887.83 L493.26,888.12 L494.64,888.41 L496.03,888.7 L497.41,889 L498.79,889.29 L500.17,889.58 L501,889.75" class="ds" stroke-dasharray="4.4,4"/>
<circle cx="340.75" cy="849.81" r="1.85" class="ci"/>
<circle cx="340.75" cy="851.14" r="1.85" class="ci"/>
<circle cx="362.32" cy="874.75" r="1.85" class="ci"/>
<circle cx="362.32" cy="882.74" r="1.85" class="ci"/>
<circle cx="378.64" cy="868.1" r="1.85" class="ci"/>
<circle cx="378.64" cy="871.43" r="1.85" class="ci"/>
<circle cx="407.12" cy="859.45" r="1.85" class="ci"/>
<circle cx="407.12" cy="864.44" r="1.85" class="ci"/>
<line x1="306.6" y1="777.8" x2="306.6" y2="945.6" class="ax" style="stroke-width:1.5"/>
<line x1="305.6" y1="944.6" x2="514.5" y2="944.6" class="ax"/>
<text transform="translate(296.6,782) scale(0.95,1)" class="tl" text-anchor="end">0.0</text>
<text transform="translate(296.6,815.26) scale(0.95,1)" class="tl" text-anchor="end">-1.0</text>
<text transform="translate(296.6,848.52) scale(0.95,1)" class="tl" text-anchor="end">-2.0</text>
<text transform="translate(296.6,881.78) scale(0.95,1)" class="tl" text-anchor="end">-3.0</text>
<text transform="translate(296.6,915.04) scale(0.95,1)" class="tl" text-anchor="end">-4.0</text>
<text transform="translate(296.6,948.3) scale(0.95,1)" class="tl" text-anchor="end">-5.0</text>
<text transform="translate(306.6,961.4) scale(0.95,1)" class="tl" text-anchor="middle">0</text>
<text transform="translate(375.73,961.4) scale(0.95,1)" class="tl" text-anchor="middle">50</text>
<text transform="translate(444.87,961.4) scale(0.95,1)" class="tl" text-anchor="middle">100</text>
<text transform="translate(514,961.4) scale(0.95,1)" class="tl" text-anchor="middle">150</text>
<text transform="translate(273.6,861.45) rotate(-90)" class="yt" text-anchor="middle">logA(f,r)</text>
<text x="511.6" y="793.3" class="fl" text-anchor="end">63.1 Hz</text>
<text x="326.7" y="982" class="xt">Hypocentral Distance (km)</text>
</svg>
</body></html>
